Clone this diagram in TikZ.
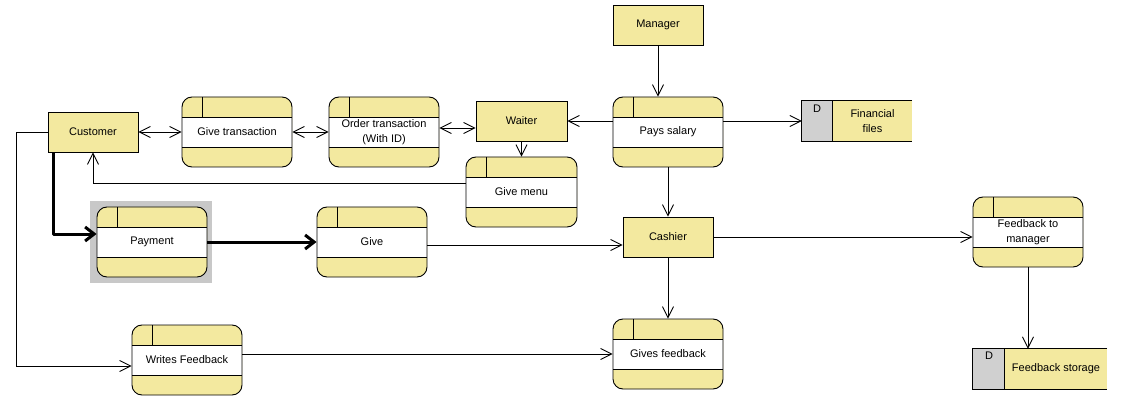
\documentclass[tikz,border=0pt]{standalone}
\usepackage{fontspec}
\setmainfont{Liberation Sans}
\usetikzlibrary{arrows.meta}
\definecolor{py}{HTML}{F3E99F}
\definecolor{sg}{HTML}{D0D0D0}
\definecolor{hg}{HTML}{C8C8C8}
\begin{document}
\begin{tikzpicture}[x=1pt,y=-1pt,
 font=\fontsize{11}{15}\selectfont,
 ent/.style={draw, line width=0.9pt, fill=py, minimum width=90pt, minimum height=40pt, inner sep=0pt},
 proc/.style={draw, line width=0.9pt, fill=py, rounded corners=10pt, minimum width=110pt, minimum height=70pt, inner sep=0pt, align=center,
   path picture={
   \fill[white, sharp corners] ([yshift=-20pt]path picture bounding box.north west) rectangle ([yshift=20pt]path picture bounding box.south east);
   \draw[sharp corners, line width=0.9pt] ([yshift=-20pt]path picture bounding box.north west) -- ([yshift=-20pt]path picture bounding box.north east)
     ([yshift=20pt]path picture bounding box.south west) -- ([yshift=20pt]path picture bounding box.south east)
     ([xshift=20pt]path picture bounding box.north west) -- ([xshift=20pt,yshift=-20pt]path picture bounding box.north west);
 }},
 store/.style={fill=py, minimum height=40pt, inner sep=0pt},
 flow/.style={draw, line width=0.9pt, -{Straight Barb[length=11pt,width=11pt]}},
 bflow/.style={draw, line width=0.9pt, {Straight Barb[length=11pt,width=11pt]}-{Straight Barb[length=11pt,width=11pt]}},
 tflow/.style={draw, line width=3pt, line join=round, -{Straight Barb[length=9pt,width=14pt]}}
]
\useasboundingbox (0,0) rectangle (1124,406);

% highlight behind Payment
\node[fill=hg, minimum width=122pt, minimum height=82pt, inner sep=0pt] (payhl) at (151,242) {};

% entities
\node[ent] (cust) at (93,132) {Customer};
\node[ent, minimum width=91pt] (waiter) at (521.5,121) {Waiter};
\node[ent] (mgr) at (658,25) {Manager};
\node[ent] (cash) at (668,237) {Cashier};

% processes
\node[proc] (gt) at (237,132) {Give transaction};
\node[proc] (ot) at (384,132) {Order transaction\\(With ID)};
\node[proc] (pays) at (668,132) {Pays salary};
\node[proc, minimum width=111pt] (gm) at (521.5,192) {Give menu};
\node[proc] (pay) at (152,242) {Payment};
\node[proc] (give) at (372,242) {Give};
\node[proc] (fbm) at (1028,232) {Feedback to\\manager};
\node[proc] (wf) at (187,360) {Writes Feedback};
\node[proc] (gfb) at (668,354) {Gives feedback};

% data stores
\node[store, minimum width=110pt] (ff) at (857,121) {};
\fill[sg] (ff.north west) rectangle ([xshift=31pt]ff.south west);
\draw[line width=0.9pt] (ff.north east) -- (ff.north west) -- (ff.south west) -- (ff.south east);
\draw[line width=0.9pt] ([xshift=31pt]ff.north west) -- ([xshift=31pt]ff.south west);
\node[align=center] (ffl) at (872.5,121.5) {Financial\\files};
\node (ffd) at (817,109) {D};

\node[store, minimum width=134pt] (fs) at (1040,369) {};
\fill[sg] (fs.north west) rectangle ([xshift=32pt]fs.south west);
\draw[line width=0.9pt] (fs.north east) -- (fs.north west) -- (fs.south west) -- (fs.south east);
\draw[line width=0.9pt] ([xshift=32pt]fs.north west) -- ([xshift=32pt]fs.south west);
\node (fsl) at (1056,369) {Feedback storage};
\node (fsd) at (989,356) {D};

% connectors
\path[bflow] (cust.east) -- (gt.west);
\path[bflow] (gt.east) -- (ot.west);
\path[bflow] ([yshift=4pt]ot.east) -- ([yshift=-7pt]waiter.west);
\path[flow] ([yshift=11pt]pays.west) -- (waiter.east);
\path[flow] (mgr.south) -- (mgr.south |- pays.north);
\path[flow] ([yshift=11pt]pays.east) -- (ff.west);
\path[flow] (waiter.south) -- (gm.north);
\path[flow] ([yshift=9pt]gm.west) -| (cust.south);
\path[flow] (pays.south) -- (cash.north);
\path[flow] ([yshift=-3pt]give.east) -- ([yshift=-8pt]cash.west);
\path[flow] (cash.east) -- (fbm.west |- cash.east);
\path[flow] (cash.south) -- (gfb.north);
\path[flow] (fbm.south) -- (fbm.south |- fs.north);
\coordinate (cl) at (16,132);
\path[flow] (cust.west) -- (cl) |- ([yshift=-6pt]wf.west);
\path[flow] (gfb.west -| wf.east) -- (gfb.west);
\path[tflow] ([xshift=6pt]cust.south west) |- ([yshift=8pt]pay.west);
\path[tflow] (pay.east) -- (give.west);
\end{tikzpicture}
\end{document}
